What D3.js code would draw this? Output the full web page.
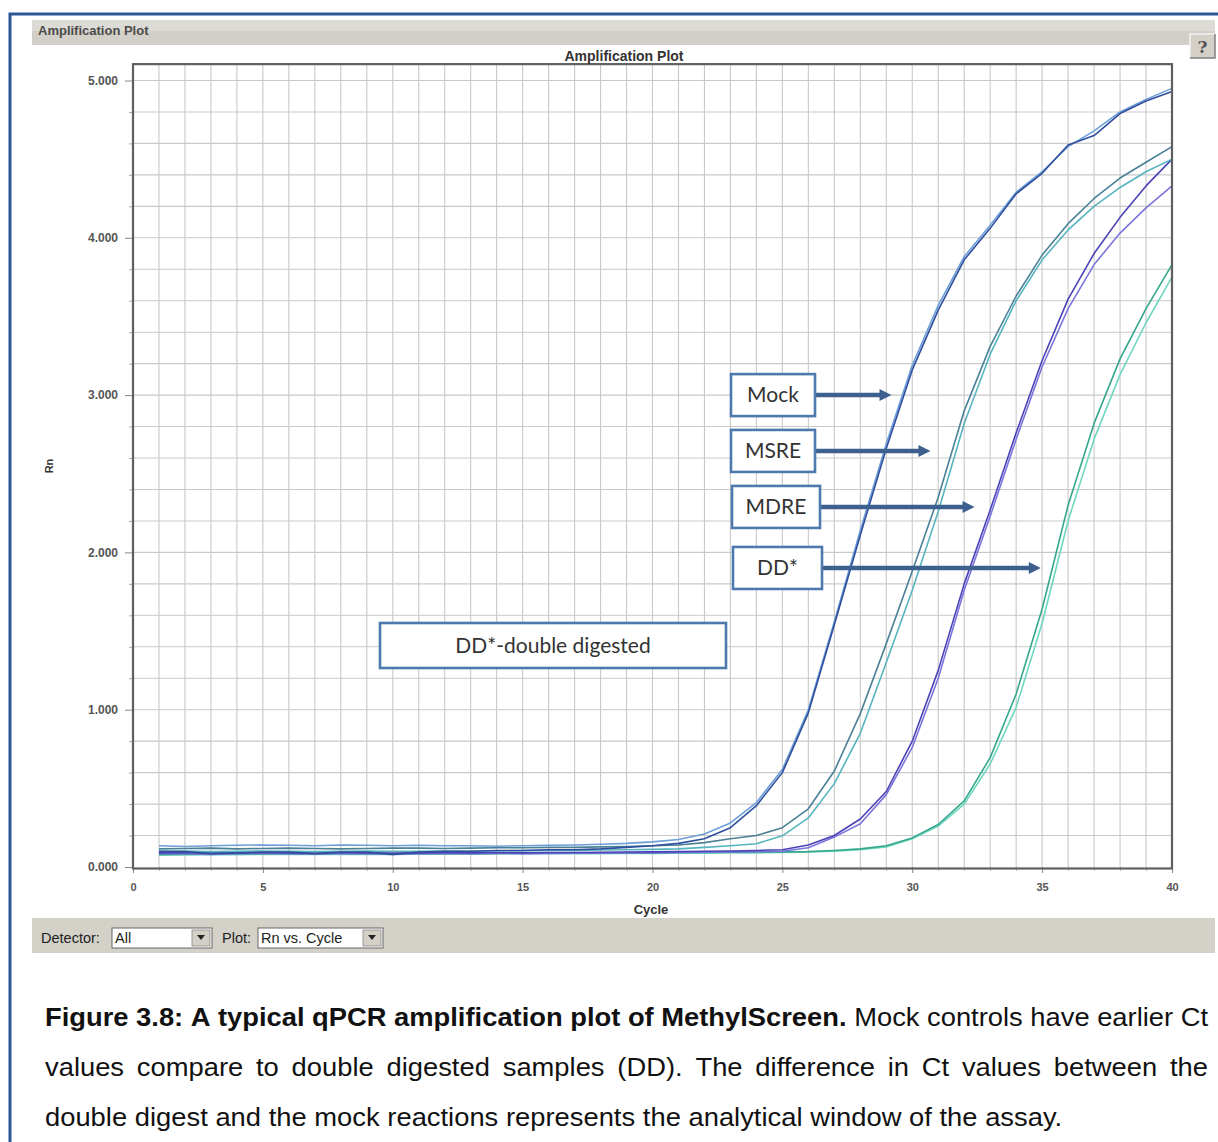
<!DOCTYPE html>
<html><head><meta charset="utf-8">
<script src="https://cdn.jsdelivr.net/npm/d3@7"></script>
<style>body{margin:0;background:#fff}svg{display:block}</style>
</head><body><svg id="c" width="1218" height="1142"></svg>
<script>
// ---------- DATA ----------
const cycles = d3.range(1, 41);
const mockA = [100,98,85,90,95,95,85,95,95,80, 95,100,100,105,105,110,110,115,125,135, 150,180,250,390,600,980,1540,2110,2660,3160, 3540,3860,4060,4280,4410,4590,4650,4790,4870,4930];
const mockB = [135,130,135,138,140,138,135,140,138,135, 138,135,135,132,135,138,140,145,150,160, 175,210,280,410,620,1000,1560,2140,2690,3190, 3570,3880,4080,4290,4420,4580,4680,4800,4880,4950];
const msreA = [115,118,120,115,118,120,118,115,118,120, 120,118,120,122,122,125,125,128,130,135, 140,155,180,200,250,370,610,975,1420,1880, 2350,2900,3310,3630,3890,4090,4250,4380,4480,4580];
const msreB = [100,102,98,100,102,100,98,100,102,100, 100,102,100,102,104,105,106,108,110,112, 115,125,135,148,198,312,530,850,1300,1760, 2260,2820,3260,3600,3860,4050,4200,4320,4420,4500];
const mdreA = [90,92,88,90,92,90,88,92,90,88, 90,92,90,92,90,92,92,94,95,96, 98,100,102,105,110,140,200,305,480,800, 1250,1800,2270,2760,3220,3610,3900,4130,4330,4500];
const mdreB = [85,84,80,84,86,85,82,86,84,80, 84,86,85,86,85,86,87,88,90,90, 92,94,96,98,100,122,190,275,460,760, 1200,1760,2230,2720,3180,3550,3830,4030,4190,4330];
const ddA = [80,82,82,84,84,85,84,86,85,84, 86,85,86,86,88,88,88,90,90,90, 92,92,94,95,96,98,105,115,135,185, 270,420,695,1100,1640,2300,2820,3230,3550,3830];
const ddB = [75,76,78,78,80,80,80,80,82,80, 82,82,82,84,84,84,85,85,86,86, 88,88,90,90,92,95,100,110,128,180, 260,400,655,1015,1550,2200,2720,3130,3460,3750];

const seriesNames = ["ddB","ddA","mdreB","mdreA","msreB","msreA","mockB","mockA"];
const seriesValues = [ddB, ddA, mdreB, mdreA, msreB, msreA, mockB, mockA];
const seriesColors = ["#6fd6bf","#34a78c","#7b74da","#4a42b6","#56b4bf","#4a8196","#6c9fd8","#2f4f9c"];

const xTickValues = [0,5,10,15,20,25,30,35,40];
const yTickValues = [0,1000,2000,3000,4000,5000];
const yTickLabels = ["0.000","1.000","2.000","3.000","4.000","5.000"];

const labels = ["Mock","MSRE","MDRE","DD*"];
const labelArrowTargets = [29.2, 30.7, 32.4, 34.95];   // cycle where arrow ends
const labelLevels = [3000, 2645, 2289, 1901];            // Rn level of arrow
const noteText = "DD*-double digested";

const captionLines = [
  [{t:"Figure 3.8: A typical qPCR amplification plot of MethylScreen.", b:true},{t:"Mock controls have earlier Ct", b:false}],
  [{t:"values compare to double digested samples (DD). The difference in Ct values between the", b:false}],
  [{t:"double digest and the mock reactions represents the analytical window of the assay.", b:false}]
];

// ---------- DRAW ----------
const svg = d3.select("#c");
const W = 1218, H = 1142;
svg.append("rect").attr("width",W).attr("height",H).attr("fill","#fff");

// outer blue frame
svg.append("path").attr("d","M10,1145 L10,14 L1222,14").attr("fill","none")
  .attr("stroke","#2b5895").attr("stroke-width",3);

// title bar
svg.append("rect").attr("x",32).attr("y",20).attr("width",1183).attr("height",11).attr("fill","#dcdbd5");
svg.append("rect").attr("x",32).attr("y",31).attr("width",1183).attr("height",14).attr("fill","#d1cfc7");
svg.append("text").attr("x",38).attr("y",35).attr("font-family","Liberation Sans, Arial, sans-serif")
  .attr("font-size",13).attr("fill","#333").attr("font-weight","bold").attr("opacity",0.85).text("Amplification Plot");

// ? button
const qb = svg.append("g");
qb.append("rect").attr("x",1190).attr("y",34).attr("width",25).attr("height",24).attr("fill","#d4d0c8");
qb.append("path").attr("d","M1190,58 L1190,34 L1215,34").attr("stroke","#f2f2f2").attr("fill","none").attr("stroke-width",1.5);
qb.append("path").attr("d","M1190,58 L1215,58 L1215,34").attr("stroke","#808080").attr("fill","none").attr("stroke-width",1.5);
qb.append("text").attr("x",1202.5).attr("y",53).attr("text-anchor","middle").attr("font-family","DejaVu Serif, serif")
  .attr("font-weight","bold").attr("font-size",17).attr("fill","#555").text("?");

// bottom toolbar
svg.append("rect").attr("x",32).attr("y",918).attr("width",1183).attr("height",35).attr("fill","#d4d1c9");
const tb = svg.append("g").attr("font-family","Liberation Sans, Arial, sans-serif").attr("font-size",14.5).attr("fill","#222");
tb.append("text").attr("x",41).attr("y",943).text("Detector:");
function combo(x, w, label){
  tb.append("rect").attr("x",x).attr("y",928).attr("width",w).attr("height",20).attr("fill","#fff").attr("stroke","#666").attr("stroke-width",1);
  tb.append("text").attr("x",x+3).attr("y",943).text(label);
  tb.append("rect").attr("x",x+w-20).attr("y",930).attr("width",18).attr("height",16).attr("fill","#d4d0c8").attr("stroke","#888").attr("stroke-width",0.8);
  tb.append("path").attr("d",`M${x+w-15},935 L${x+w-7},935 L${x+w-11},940 Z`).attr("fill","#222");
}
combo(112, 100, "All");
tb.append("text").attr("x",222).attr("y",943).text("Plot:");
combo(258, 125, "Rn vs. Cycle");

// scales
const x = d3.scaleLinear().domain([0,40]).range([133,1172]);
const y = d3.scaleLinear().domain([0,5000]).range([867,80.5]);
const yTop = y(5104);

// grid
const grid = svg.append("g").attr("stroke","#c9c9c9").attr("stroke-width",1.1);
d3.range(1,40).forEach(c => grid.append("line").attr("x1",x(c)).attr("x2",x(c)).attr("y1",yTop).attr("y2",y(0)));
d3.range(200,5001,200).forEach(v => grid.append("line").attr("x1",x(0)).attr("x2",x(40)).attr("y1",y(v)).attr("y2",y(v)));

// axes
const fontAx = "Liberation Sans, Arial, sans-serif";
const yAxis = svg.append("g").attr("transform",`translate(${x(0)},0)`)
  .call(d3.axisLeft(y).tickValues(yTickValues).tickFormat((d,i)=>yTickLabels[i]).tickSize(8).tickPadding(7));
yAxis.select(".domain").remove();
yAxis.selectAll("line").attr("stroke","#888");
yAxis.selectAll("text").attr("font-family",fontAx).attr("font-size",12).attr("font-weight","bold").attr("fill","#555");
const yMinor = svg.append("g").attr("transform",`translate(${x(0)},0)`)
  .call(d3.axisLeft(y).tickValues(d3.range(200,5000,200).filter(v=>v%1000)).tickFormat("").tickSize(4));
yMinor.select(".domain").remove(); yMinor.selectAll("line").attr("stroke","#aaa");

const xAxis = svg.append("g").attr("transform",`translate(0,${y(0)})`)
  .call(d3.axisBottom(x).tickValues(xTickValues).tickFormat(d3.format("d")).tickSize(6).tickPadding(10));
xAxis.select(".domain").remove();
xAxis.selectAll("line").attr("stroke","#888");
xAxis.selectAll("text").attr("font-family",fontAx).attr("font-size",11).attr("font-weight","bold").attr("fill","#555");
const xMinor = svg.append("g").attr("transform",`translate(0,${y(0)})`)
  .call(d3.axisBottom(x).tickValues(d3.range(1,40).filter(v=>v%5)).tickFormat("").tickSize(4));
xMinor.select(".domain").remove(); xMinor.selectAll("line").attr("stroke","#bbb");

// curves
const line = d3.line().x((d,i)=>x(cycles[i])).y(d=>y(d));
seriesValues.forEach((vals, k) => {
  svg.append("path").datum(vals).attr("d", line).attr("fill","none")
    .attr("stroke", seriesColors[k]).attr("stroke-width",1.6).attr("stroke-linejoin","round");
});

// plot border
svg.append("rect").attr("x",x(0)).attr("y",yTop).attr("width",x(40)-x(0)).attr("height",y(0)-yTop+1.5)
  .attr("fill","none").attr("stroke","#5f5f5f").attr("stroke-width",2.2);

// titles
svg.append("text").attr("x",624).attr("y",61).attr("text-anchor","middle").attr("font-family",fontAx)
  .attr("font-weight","bold").attr("font-size",14).attr("fill","#333").text("Amplification Plot");
svg.append("text").attr("x",651).attr("y",914).attr("text-anchor","middle").attr("font-family",fontAx)
  .attr("font-weight","bold").attr("font-size",13).attr("fill","#333").text("Cycle");
svg.append("text").attr("transform","translate(53,466) rotate(-90)").attr("text-anchor","middle").attr("font-family",fontAx)
  .attr("font-weight","bold").attr("font-size",11).attr("fill","#333").text("Rn");

// annotation boxes + arrows
const boxX = [731,731,732,733], boxW = [84,84,88,89];
const ann = svg.append("g");
labels.forEach((lab,i) => {
  const cy = y(labelLevels[i]);
  const bx = boxX[i], bw = boxW[i], bh = 42;
  const tip = x(labelArrowTargets[i]);
  ann.append("line").attr("x1",bx+bw).attr("x2",tip-10).attr("y1",cy).attr("y2",cy)
    .attr("stroke","#3d5f8e").attr("stroke-width",4.5);
  ann.append("path").attr("d",`M${tip-12},${cy-6} L${tip},${cy} L${tip-12},${cy+6} Z`).attr("fill","#3d5f8e");
  ann.append("rect").attr("x",bx).attr("y",cy-bh/2).attr("width",bw).attr("height",bh)
    .attr("fill","#fff").attr("stroke","#4d79ad").attr("stroke-width",2.6);
  ann.append("text").attr("x",bx+bw/2).attr("y",cy+7).attr("text-anchor","middle")
    .attr("font-family","Lato, Open Sans, sans-serif").attr("font-size",21).attr("fill","#333").text(lab);
});
ann.append("rect").attr("x",380).attr("y",623).attr("width",346).attr("height",45)
  .attr("fill","#fff").attr("stroke","#4d79ad").attr("stroke-width",2.6);
ann.append("text").attr("x",553).attr("y",653).attr("text-anchor","middle")
  .attr("font-family","Lato, Open Sans, sans-serif").attr("font-size",21).attr("fill","#333").text(noteText);

// caption (justified)
const cap = svg.append("g").attr("font-family","Liberation Sans, Arial, sans-serif").attr("font-size",25).attr("fill","#111");
const capX0 = 45, capX1 = 1208, baselines = [1026, 1076, 1126];
const probe = cap.append("text").text(captionLines[2][0].t);
const natW = probe.node().getComputedTextLength(); probe.remove();
const sx = 1017 / natW;
captionLines.forEach((ln, li) => {
  const words = [];
  ln.forEach(seg => seg.t.split(" ").forEach(w => words.push({w, b:seg.b})));
  const els = words.map(o => {
    const t = cap.append("text").attr("font-weight", o.b ? "bold" : "normal").text(o.w);
    return {el:t, wd:t.node().getComputedTextLength()*sx};
  });
  const total = d3.sum(els, e=>e.wd);
  let gap;
  if (li < 2) gap = (capX1 - capX0 - total) / (els.length - 1);
  else { const sp = cap.append("text").text("a a"); const sp2 = cap.append("text").text("aa");
    gap = (sp.node().getComputedTextLength()-sp2.node().getComputedTextLength())*sx; sp.remove(); sp2.remove(); }
  let cx = capX0;
  els.forEach(e => { e.el.attr("transform",`translate(${cx},${baselines[li]}) scale(${sx},1)`); cx += e.wd + gap; });
});
</script></body></html>
